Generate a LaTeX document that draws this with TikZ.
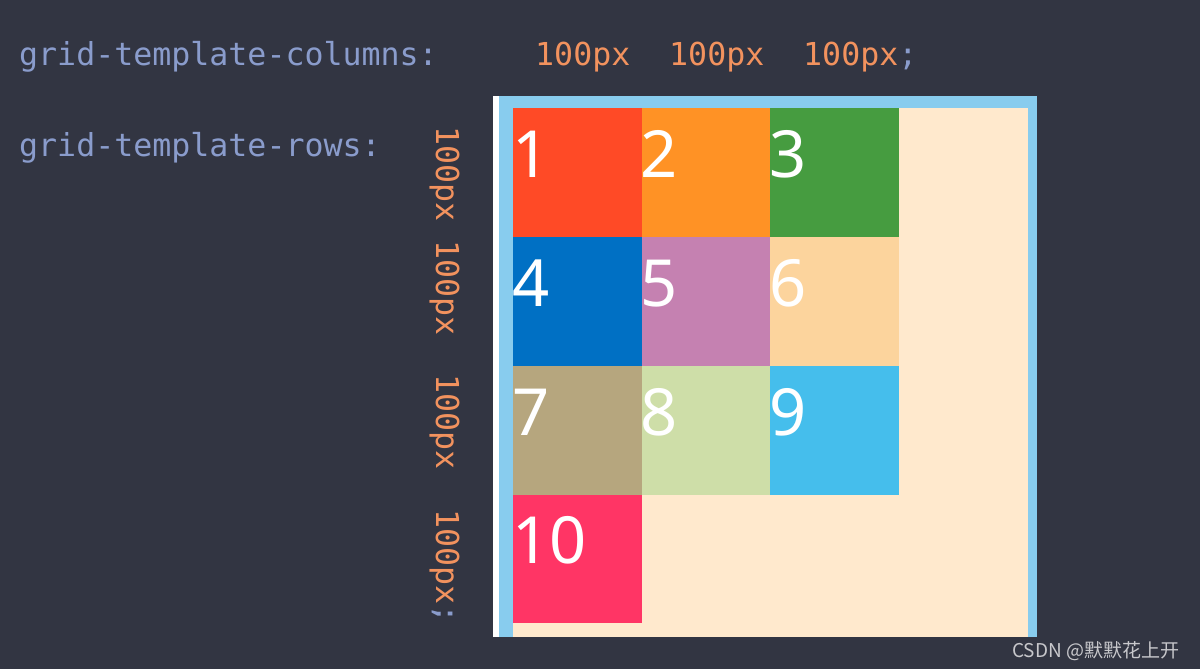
\documentclass[tikz,border=0pt]{standalone}
\usepackage{fontspec}
\setmainfont{Noto Sans}
\newfontfamily\codefont{DejaVu Sans Mono}
\newfontfamily\cjkfont{Noto Sans CJK SC}
\definecolor{bg}{RGB}{50,53,66}
\definecolor{codeblue}{RGB}{138,156,204}
\definecolor{codeorange}{RGB}{242,146,94}
\definecolor{frameblue}{RGB}{136,204,238}
\definecolor{cream}{RGB}{255,233,205}
\definecolor{cA}{RGB}{255,74,38}
\definecolor{cB}{RGB}{255,146,37}
\definecolor{cC}{RGB}{70,156,64}
\definecolor{cD}{RGB}{0,112,196}
\definecolor{cE}{RGB}{197,129,177}
\definecolor{cF}{RGB}{252,212,157}
\definecolor{cG}{RGB}{182,166,126}
\definecolor{cH}{RGB}{206,222,168}
\definecolor{cI}{RGB}{69,190,236}
\definecolor{cJ}{RGB}{255,53,101}
\definecolor{wm}{RGB}{200,200,204}
\begin{document}
\begin{tikzpicture}[x=1pt,y=-1pt,
  cell/.style={draw=none,anchor=north west,inner sep=0pt,minimum width=128.5pt,minimum height=128.5pt},
  num/.style={anchor=base west,inner sep=0pt,text=white,font=\fontsize{65}{65}\selectfont},
  code/.style={anchor=base west,inner sep=0pt,font=\codefont\fontsize{31.6}{31.6}\selectfont},
  vcode/.style={code,rotate=-90,text=codeorange}]
\useasboundingbox (0,0) rectangle (1200,669);
\fill[bg] (0,0) rectangle (1200,669);
% container
\fill[white] (493,96) rectangle (499,637);
\fill[frameblue] (499,96) rectangle (1037,637);
\node[cell,fill=cream,minimum width=515pt,minimum height=529pt] (box) at (513,108) {};
% cells
\node[cell,fill=cA] (c1) at (513,108) {};
\node[cell,fill=cB] (c2) at (641.5,108) {};
\node[cell,fill=cC] (c3) at (770,108) {};
\node[cell,fill=cD] (c4) at (513,237) {};
\node[cell,fill=cE] (c5) at (641.5,237) {};
\node[cell,fill=cF] (c6) at (770,237) {};
\node[cell,fill=cG] (c7) at (513,366) {};
\node[cell,fill=cH] (c8) at (641.5,366) {};
\node[cell,fill=cI] (c9) at (770,366) {};
\node[cell,fill=cJ] (c10) at (513,494.5) {};
\foreach \i in {1,...,10}{
  \node[num] (n\i) at ([shift={(-1,69)}]c\i.north west) {\i};
}
% code text
\node[code,text=codeblue] (cols) at (19,66) {grid-template-columns:};
\node[code,text=codeorange] (v1) at (535,66) {100px};
\node[code,text=codeorange] (v2) at (669,66) {100px};
\node[code,text=codeorange] (v3) at (803,66) {100px\textcolor{codeblue}{;}};
\node[code,text=codeblue] (rows) at (19,156) {grid-template-rows:};
\node[vcode] (r1) at (436,126) {100px 100px};
\node[vcode] (r3) at (436,374) {100px};
\node[vcode] (r4) at (436,509) {100px\textcolor{codeblue}{;}};
% watermark
\node[anchor=base west,inner sep=0pt,text=wm,font=\cjkfont\fontsize{19}{19}\selectfont] (wmark) at (1012,657) {CSDN @默默花上开};
\end{tikzpicture}
\end{document}
